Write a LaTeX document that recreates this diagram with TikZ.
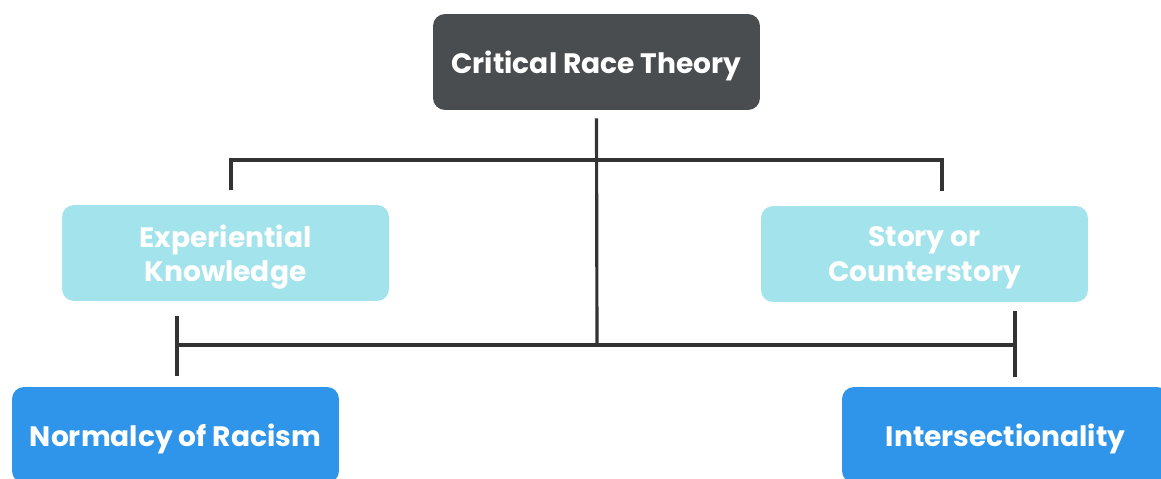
\documentclass[tikz,border=0pt]{standalone}
\usepackage{fontspec}
\setmainfont{Poppins}
\usetikzlibrary{positioning}
\definecolor{crtgray}{HTML}{4A4D50}
\definecolor{crtcyan}{HTML}{A2E3EC}
\definecolor{crtblue}{HTML}{2F95EA}
\definecolor{linkgray}{HTML}{333333}

\begin{document}
\begin{tikzpicture}[x=0.02cm, y=-0.02cm,
    box/.style={rectangle, rounded corners=0.24cm, minimum width=6.54cm, minimum height=1.92cm,
                align=center, text=white, inner sep=0pt, text depth=0pt,
                font=\bfseries\fontsize{16}{19.5}\selectfont},
    link/.style={draw=linkgray, line width=1.8pt}]
  \useasboundingbox (0,0) rectangle (1161,478);
  \clip (0,0) rectangle (1161,478);
	\node[box, fill=crtgray] (crt)   at (596.5,62)  {Critical Race Theory};
  \node[box, fill=crtcyan] (exp)   at (225.5,253) {Experiential\\Knowledge};
  \node[box, fill=crtcyan] (story) at (924.5,254) {Story or\\Counterstory};
  \node[box, fill=crtblue] (nr)    at (175.5,435) {Normalcy of Racism};
  \node[box, fill=crtblue] (inter) at (1005.5,435) {Intersectionality};
  \coordinate (j1) at (597,160);
  \coordinate (j2) at (597,345);
  \coordinate (ul) at (231,160);
  \coordinate (ur) at (942,160);
  \coordinate (jl) at (177,345);
  \coordinate (jr) at (1015,345);
  % trunk and upper bar
  \draw[link] ([yshift=-0.16cm]crt.south) -- (j2);
  \draw[link] ([yshift=0.3cm]exp.north -| ul) |- (j1) -| ([yshift=0.3cm]story.north -| ur);
  % lower bar
  \draw[link] (jl) -- (jr);
  \draw[link] ([yshift=-0.3cm]jl |- exp.south) -- ([yshift=0.22cm]jl |- nr.north);
  \draw[link] ([yshift=-0.18cm]jr |- story.south) -- ([yshift=0.2cm]jr |- inter.north);
\end{tikzpicture}
\end{document}
